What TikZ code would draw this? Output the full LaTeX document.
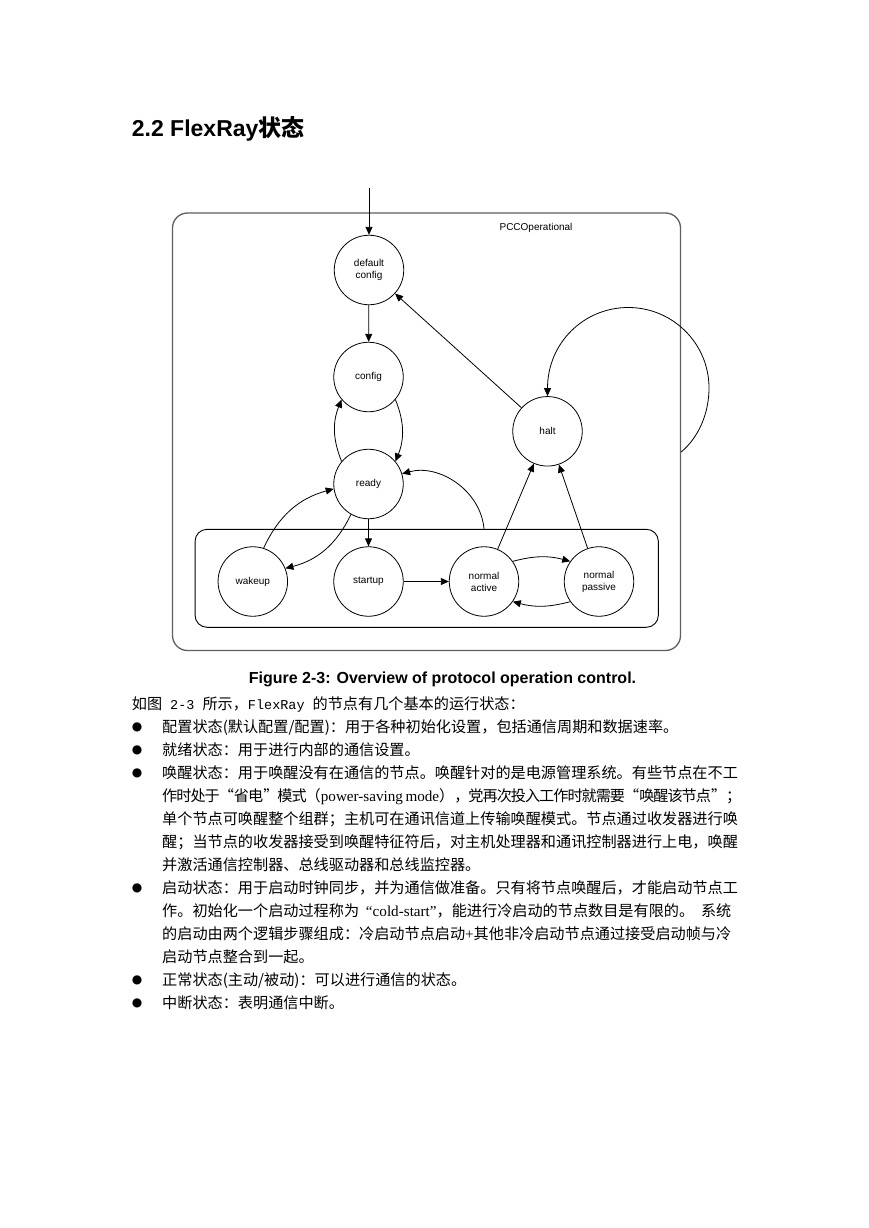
\documentclass[tikz,border=0pt]{standalone}
\usepackage{fontspec}
\setmainfont{Liberation Serif}
\setsansfont{Liberation Sans}
\setmonofont{Liberation Mono}
\newfontfamily\cjk{Noto Sans CJK SC}
\newfontfamily\symfont{DejaVu Sans}
\usepackage{xcolor}
\usepackage{tikz}
\usetikzlibrary{
  arrows.meta,
  positioning,
  calc
}
\definecolor{framegray}{RGB}{95, 95, 95}
\XeTeXlinebreaklocale "zh"
\XeTeXlinebreakskip=0pt plus 2pt minus 1pt
\XeTeXlinebreakpenalty=10000

\begin{document}
\begin{tikzpicture}[x=1pt, y=1pt,
  state/.style={circle, draw, line width=0.8pt, minimum size=69.5pt, inner sep=0pt, align=center, font=\sffamily\fontsize{10}{12}\selectfont},
  trans/.style={line width=0.8pt, -{Triangle[length=8pt, width=7pt]}},
  bodyline/.style={anchor=base west, inner sep=0pt, font=\fontsize{15.15}{23}\cjk},
  jline/.style={bodyline, text width=576pt, align=justify},
  bulletmark/.style={inner sep=0pt, font=\fontsize{12}{12}\symfont}]
  \useasboundingbox (0, 0) rectangle (869, -1228);
  \fill[white] (0, 0) rectangle (869, -1228);
  % heading
  \node[anchor=base west, inner sep=0pt, font=\fontsize{23}{26}\selectfont] (head) at (131.7, -136) {{\sffamily\bfseries 2.2 FlexRay}{\cjk\bfseries 状态}};
  % frames
  \node[draw=framegray, line width=1.3pt, rounded corners=15pt, minimum width=508pt, minimum height=437.5pt, inner sep=0pt] (pccop) at (426.5, -431.75) {};
  \node[draw, line width=0.9pt, rounded corners=12pt, minimum width=463.3pt, minimum height=98pt, inner sep=0pt] (oper) at (426.7, -578.3) {};
  \node[font=\sffamily\fontsize{10}{12}\selectfont, inner sep=0pt] (pcclabel) at (536, -228) {PCCOperational};
  % states
  \node[state] (dc) at (369, -270) {default\\config};
  \node[state] (cfg) at (368.5, -377) {config};
  \node[state] (rdy) at (368.5, -484) {ready};
  \node[state] (hlt) at (547.5, -431.3) {halt};
  \node[state] (wk) at (252.8, -581.5) {wakeup};
  \node[state] (st) at (368.5, -581.5) {startup};
  \node[state] (na) at (484, -581.5) {normal\\active};
  \node[state] (np) at (599, -581.5) {normal\\passive};
  \coordinate (init) at (369, -188);
  \coordinate (loopin) at (pccop.east |- 0, -452);
  % transitions
  \draw[trans] (init) -- (dc);
  \draw[trans] (dc) -- (cfg);
  \draw[trans] (cfg.320) to[bend left=22] (rdy.40);
  \draw[trans] (rdy.140) to[bend left=22] (cfg.220);
  \draw[trans] (rdy) -- (st);
  \draw[trans] (wk.72) to[bend left=25] (rdy.188);
  \draw[trans] (rdy.240) to[bend left=25] (wk.22);
  \draw[trans] (st) -- (na);
  \draw[trans] (na.35) to[bend left=15] (np.145);
  \draw[trans] (np.215) to[bend left=15] (na.325);
  \draw[trans] (na) -- (hlt);
  \draw[trans] (np) -- (hlt);
  \draw[trans] (hlt) -- (dc);
  \draw[trans] (na |- oper.north) to[out=95, in=15] (rdy.17);
  \draw[trans] (loopin) .. controls (699.4, -436.7) and (709, -412.3) .. (709, -388)
    .. controls (709, -343.5) and (672.8, -307.5) .. (628.3, -307.5)
    .. controls (583.8, -307.5) and (547.5, -343) .. (hlt.north);
  % caption
  \node[anchor=base, inner sep=0pt, font=\sffamily\bfseries\fontsize{16}{18}\selectfont] (cap) at (442.5, -683) {Figure 2-3: Overview of protocol operation control.};
  % body text
  \foreach \k in {1, 2, 3, 8, 12, 13} {
    \node[bulletmark] (dot\k) at (137, {-704-23*\k}) {●};
  }
  \node[bodyline] (t0) at (131.7, -709.8) {如图\hspace{8pt}{\ttfamily\fontsize{13.5}{23}\selectfont 2-3}\hspace{8pt}所示，{\ttfamily\fontsize{13.5}{23}\selectfont FlexRay}\hspace{8pt}的节点有几个基本的运行状态：};
  \node[bodyline] (t1) at (162, -732.8) {配置状态(默认配置/配置)：用于各种初始化设置，包括通信周期和数据速率。};
  \node[bodyline] (t2) at (162, -755.8) {就绪状态：用于进行内部的通信设置。};
  \node[jline] (t3) at (162, -778.8) {\parfillskip=0pt 唤醒状态：用于唤醒没有在通信的节点。唤醒针对的是电源管理系统。有些节点在不工};
  \node[jline] (t4) at (162, -801.8) {\parfillskip=0pt 作时处于“省电”模式（{\rmfamily power-saving~mode}），党再次投入工作时就需要“唤醒该节点”；};
  \node[jline] (t5) at (162, -824.8) {\parfillskip=0pt 单个节点可唤醒整个组群；主机可在通讯信道上传输唤醒模式。节点通过收发器进行唤};
  \node[jline] (t6) at (162, -847.8) {\parfillskip=0pt 醒；当节点的收发器接受到唤醒特征符后，对主机处理器和通讯控制器进行上电，唤醒};
  \node[bodyline] (t7) at (162, -870.8) {并激活通信控制器、总线驱动器和总线监控器。};
  \node[jline] (t8) at (162, -893.8) {\parfillskip=0pt 启动状态：用于启动时钟同步，并为通信做准备。只有将节点唤醒后，才能启动节点工};
  \node[jline] (t9) at (162, -916.8) {\parfillskip=0pt 作。初始化一个启动过程称为\hskip 0pt plus 1fil{\rmfamily “cold-start”}，能进行冷启动的节点数目是有限的。\hskip 0pt plus 1fil 系统};
  \node[jline] (t10) at (162, -939.8) {\parfillskip=0pt 的启动由两个逻辑步骤组成：冷启动节点启动{\rmfamily +}其他非冷启动节点通过接受启动帧与冷};
  \node[bodyline] (t11) at (162, -962.8) {启动节点整合到一起。};
  \node[bodyline] (t12) at (162, -985.8) {正常状态(主动/被动)：可以进行通信的状态。};
  \node[bodyline] (t13) at (162, -1008.8) {中断状态：表明通信中断。};
\end{tikzpicture}
\end{document}
